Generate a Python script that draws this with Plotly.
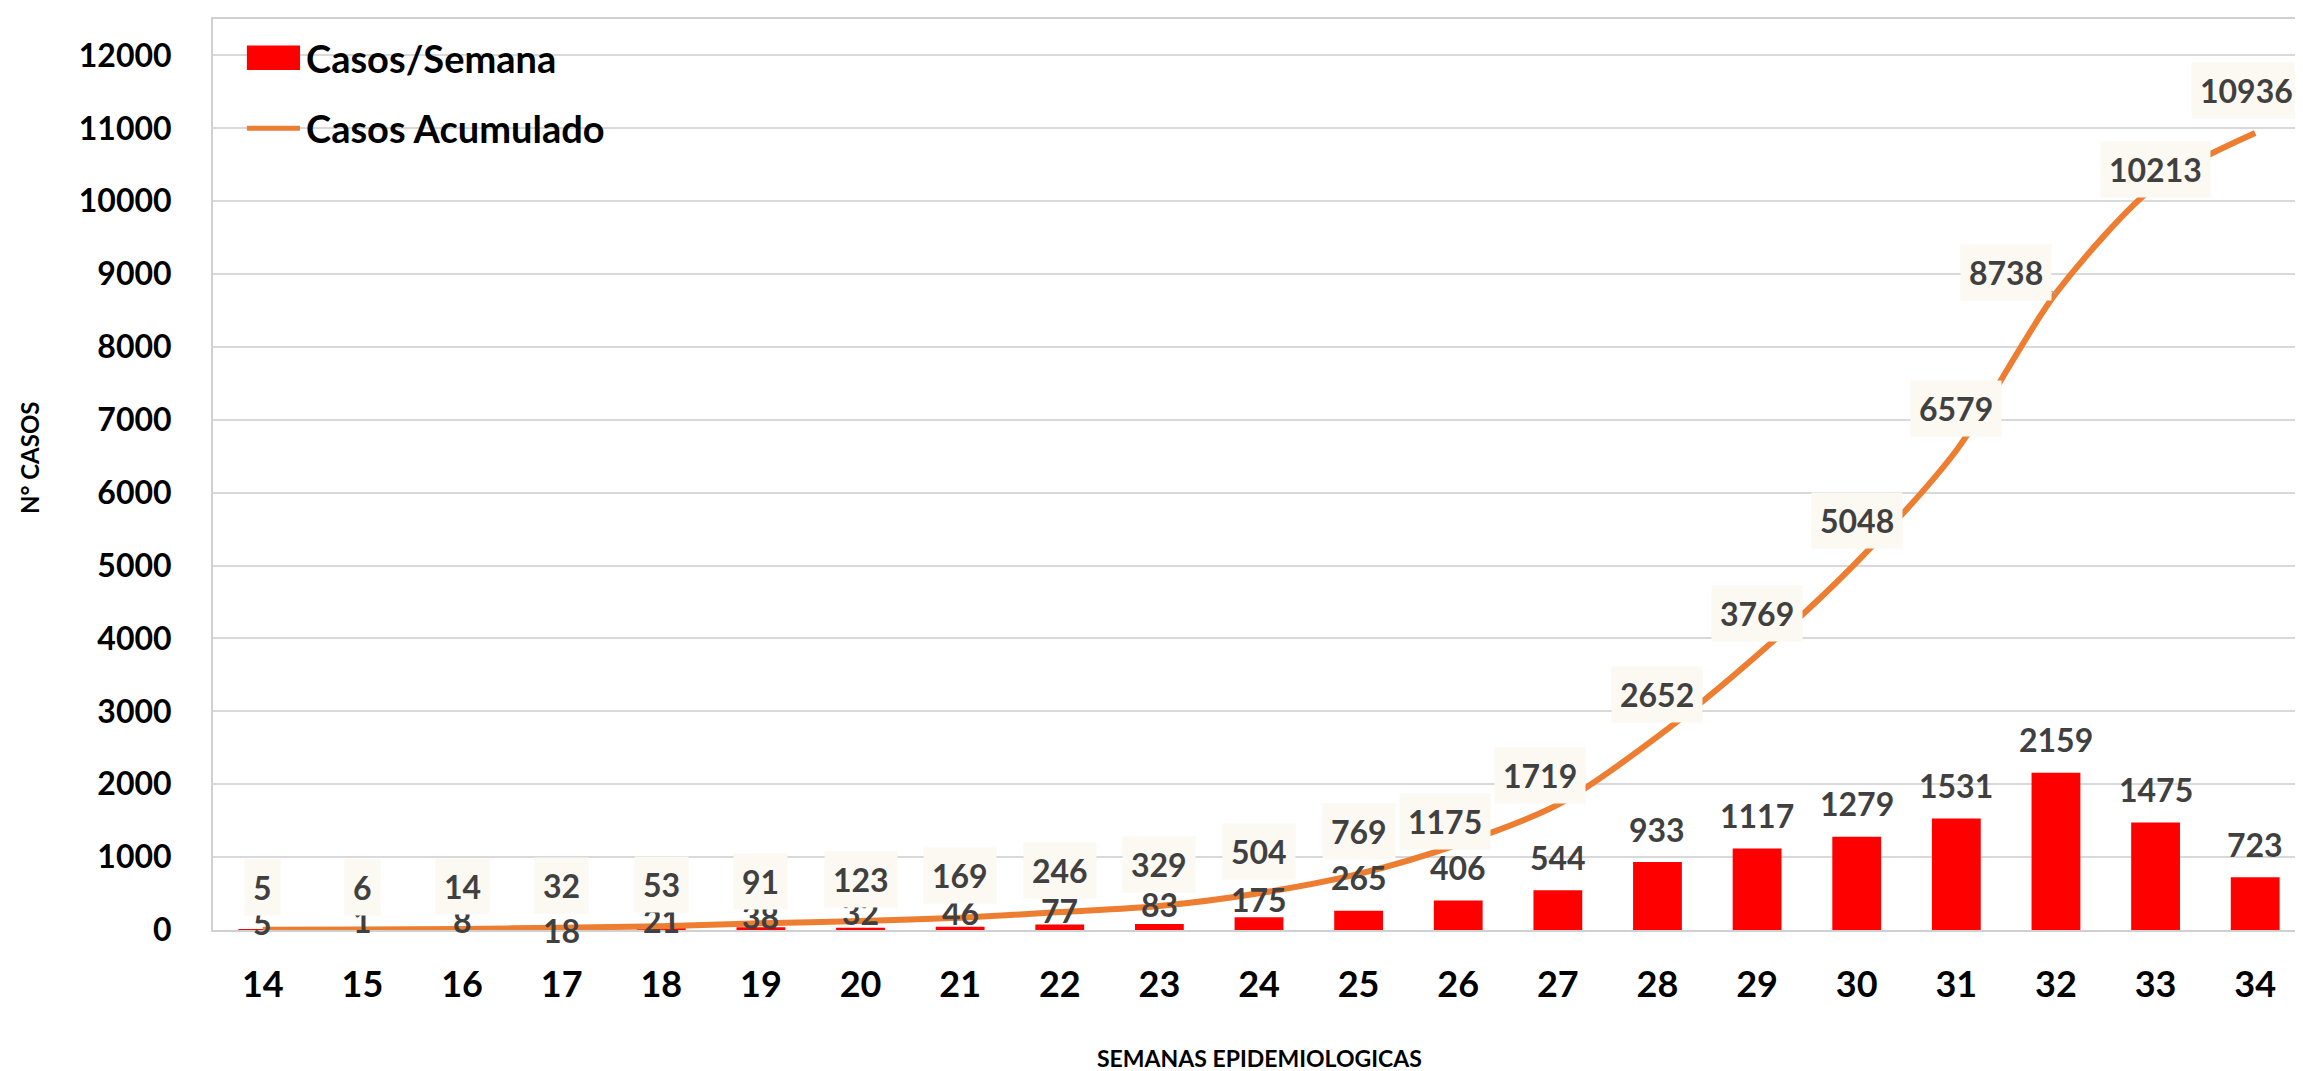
import plotly.graph_objects as go

# ---- data ----
semanas = [14, 15, 16, 17, 18, 19, 20, 21, 22, 23, 24, 25, 26, 27, 28, 29, 30, 31, 32, 33, 34]
casos_semana = [5, 1, 8, 18, 21, 38, 32, 46, 77, 83, 175, 265, 406, 544, 933, 1117, 1279, 1531, 2159, 1475, 723]
casos_acumulado = [5, 6, 14, 32, 53, 91, 123, 169, 246, 329, 504, 769, 1175, 1719, 2652, 3769, 5048, 6579, 8738, 10213, 10936]
y_ticks = [0, 1000, 2000, 3000, 4000, 5000, 6000, 7000, 8000, 9000, 10000, 11000, 12000]

# ---- label placement (pixels) ----
bar_label_shift = [7, 9, 9, -2, 8, 11, 15, 14, 14, 19, 18] + [33] * 10
acum_label_shift = {26: (-13, 23), 27: (-18, 29), 32: (-50, 21), 33: (0, 16), 34: (-9, 42)}

FONT = "Lato"
RED = "#FF0000"
ORANGE = "#ED7D31"
LABEL_GRAY = "#404040"
BOX = "#FCF8F2"

fig = go.Figure()
fig.add_trace(go.Bar(x=semanas, y=casos_semana, name="Casos/Semana",
                     marker=dict(color=RED, line=dict(width=0)), width=0.49,
                     showlegend=False, hoverinfo="x+y"))
fig.add_trace(go.Scatter(x=semanas, y=casos_acumulado, name="Casos Acumulado",
                         mode="lines", line=dict(color=ORANGE, width=6, shape="spline", smoothing=0.8),
                         showlegend=False))

annotations = []
for i, (w, v) in enumerate(zip(semanas, casos_semana)):
    annotations.append(dict(x=w, y=v, xref="x", yref="y", text=str(v), showarrow=False,
                            yanchor="middle", yshift=bar_label_shift[i],
                            font=dict(family=FONT, size=32, color=LABEL_GRAY, weight="bold")))
for w, v in zip(semanas, casos_acumulado):
    dx, dy = acum_label_shift.get(w, (0, 42))
    lead = w == 32
    annotations.append(dict(x=w, y=v, xref="x", yref="y", text=str(v),
                            showarrow=True, arrowhead=0, arrowwidth=1.5,
                            arrowcolor="#A6A6A6" if lead else "rgba(0,0,0,0)",
                            ax=dx, ay=-dy, standoff=0,
                            bgcolor=BOX, borderpad=8,
                            font=dict(family=FONT, size=32, color=LABEL_GRAY, weight="bold")))

# axis titles
annotations.append(dict(x=0.5, y=-0.141, xref="paper", yref="paper", text="SEMANAS EPIDEMIOLOGICAS",
                        showarrow=False, xanchor="center", yanchor="middle",
                        font=dict(family=FONT, size=23, color="black", weight="bold")))
annotations.append(dict(x=-0.088, y=0.519, xref="paper", yref="paper", text="N° CASOS",
                        showarrow=False, textangle=-90, xanchor="center", yanchor="middle",
                        font=dict(family=FONT, size=24, color="black", weight="bold")))

# legend (drawn manually)
annotations.append(dict(x=0.0437, y=0.957, xref="paper", yref="paper", text="Casos/Semana",
                        showarrow=False, xanchor="left", yanchor="middle",
                        font=dict(family=FONT, size=38, color="black", weight="bold")))
annotations.append(dict(x=0.0437, y=0.880, xref="paper", yref="paper", text="Casos Acumulado",
                        showarrow=False, xanchor="left", yanchor="middle",
                        font=dict(family=FONT, size=38, color="black", weight="bold")))
shapes = [
    dict(type="rect", xref="paper", yref="paper", x0=0.0162, x1=0.0416, y0=0.944, y1=0.971,
         fillcolor=RED, line=dict(width=0)),
    dict(type="line", xref="paper", yref="paper", x0=0.0162, x1=0.0416, y0=0.880, y1=0.880,
         line=dict(color=ORANGE, width=5)),
]

fig.update_layout(
    width=2303, height=1071, autosize=False,
    margin=dict(l=205, r=4, t=11, b=149),
    paper_bgcolor="white", plot_bgcolor="white",
    annotations=annotations, shapes=shapes,
    bargap=0.5,
)
fig.update_xaxes(range=[13.5, 34.5], tickmode="array", tickvals=semanas, ticktext=[str(s) for s in semanas],
                 showgrid=False, showline=True, mirror=True, linecolor="#D0D0D0", linewidth=2,
                 ticks="outside", ticklen=22, tickcolor="rgba(0,0,0,0)",
                 tickfont=dict(family=FONT, size=36, color="black", weight="bold"), zeroline=False)
fig.update_yaxes(range=[0, 12500], tickmode="array", tickvals=y_ticks, ticktext=[str(t) for t in y_ticks],
                 showgrid=True, gridcolor="#D9D9D9", gridwidth=2,
                 showline=True, mirror=True, linecolor="#D0D0D0", linewidth=2,
                 ticks="outside", ticklen=33, tickcolor="rgba(0,0,0,0)",
                 tickfont=dict(family=FONT, size=32, color="black", weight="bold"), zeroline=False)

fig.write_html("out.html")
